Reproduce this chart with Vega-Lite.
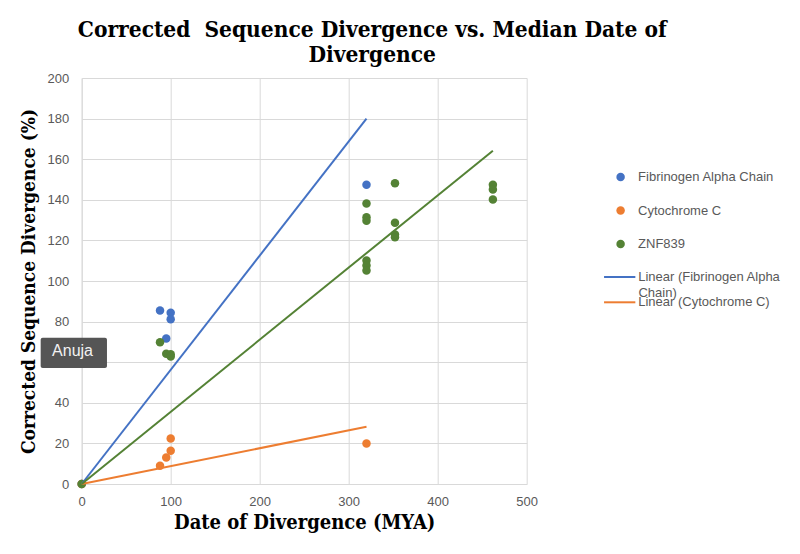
{
  "$schema": "https://vega.github.io/schema/vega-lite/v6.json",
  "autosize": "none",
  "width": 445,
  "height": 406,
  "padding": {"left": 81.7, "top": 78, "right": 273.3, "bottom": 70},
  "background": "white",
  "title": {
    "text": ["Corrected\u00a0 Sequence Divergence vs. Median Date of", "Divergence"],
    "font": "DejaVu Serif Condensed",
    "fontWeight": "bold",
    "fontSize": 22.5,
    "lineHeight": 25,
    "color": "#000000",
    "anchor": "middle",
    "frame": "group",
    "dx": 68,
    "offset": 6
  },
  "config": {
    "view": {"stroke": null},
    "axis": {
      "gridColor": "#d9d9d9",
      "gridWidth": 1,
      "domainColor": "#d9d9d9",
      "ticks": false,
      "labelFlush": false,
      "labelFont": "Liberation Sans",
      "labelFontSize": 13,
      "labelColor": "#595959",
      "titleFont": "DejaVu Serif Condensed",
      "titleFontWeight": "bold",
      "titleColor": "#000000"
    },
    "legend": {
      "labelFont": "Liberation Sans",
      "labelFontSize": 13,
      "labelColor": "#595959"
    }
  },
  "datasets": {
    "points": [
      {"series": "Fibrinogen Alpha Chain", "date": 0, "div": 0},
      {"series": "Fibrinogen Alpha Chain", "date": 88, "div": 85.5},
      {"series": "Fibrinogen Alpha Chain", "date": 100, "div": 84.4},
      {"series": "Fibrinogen Alpha Chain", "date": 100, "div": 81.2},
      {"series": "Fibrinogen Alpha Chain", "date": 95, "div": 71.7},
      {"series": "Fibrinogen Alpha Chain", "date": 320, "div": 147.4},
      {"series": "Cytochrome C", "date": 0, "div": 0},
      {"series": "Cytochrome C", "date": 88, "div": 9.0},
      {"series": "Cytochrome C", "date": 95, "div": 13.1},
      {"series": "Cytochrome C", "date": 100, "div": 16.4},
      {"series": "Cytochrome C", "date": 100, "div": 22.4},
      {"series": "Cytochrome C", "date": 320, "div": 20.0},
      {"series": "ZNF839", "date": 0, "div": 0},
      {"series": "ZNF839", "date": 88, "div": 69.8},
      {"series": "ZNF839", "date": 95, "div": 64.2},
      {"series": "ZNF839", "date": 100, "div": 63.9},
      {"series": "ZNF839", "date": 100, "div": 62.8},
      {"series": "ZNF839", "date": 320, "div": 138.2},
      {"series": "ZNF839", "date": 320, "div": 131.4},
      {"series": "ZNF839", "date": 320, "div": 129.7},
      {"series": "ZNF839", "date": 320, "div": 110.1},
      {"series": "ZNF839", "date": 320, "div": 107.6},
      {"series": "ZNF839", "date": 320, "div": 105.2},
      {"series": "ZNF839", "date": 352, "div": 148.1},
      {"series": "ZNF839", "date": 352, "div": 128.7},
      {"series": "ZNF839", "date": 352, "div": 122.9},
      {"series": "ZNF839", "date": 352, "div": 121.5},
      {"series": "ZNF839", "date": 462, "div": 147.4},
      {"series": "ZNF839", "date": 462, "div": 145.1},
      {"series": "ZNF839", "date": 462, "div": 140.2}
    ],
    "trends": [
      {"trend": "Linear (Fibrinogen Alpha Chain)", "date": 0, "div": 0},
      {"trend": "Linear (Fibrinogen Alpha Chain)", "date": 320, "div": 180},
      {"trend": "Linear (Cytochrome C)", "date": 0, "div": 0},
      {"trend": "Linear (Cytochrome C)", "date": 320, "div": 28.2},
      {"trend": "Linear (ZNF839)", "date": 0, "div": 0},
      {"trend": "Linear (ZNF839)", "date": 462, "div": 164.2}
    ],
    "note": [
      {"label": "Anuja", "x1": -46.1, "x2": 28.4, "y1": 57.1, "y2": 72.1, "tx": -10.3, "ty": 65.3}
    ],
    "wrap": [
      {"label": "Chain)", "x": 625.6, "y": 93.9}
    ]
  },
  "layer": [
    {
      "data": {"name": "points"},
      "mark": {"type": "point", "filled": true, "opacity": 1, "size": 72},
      "encoding": {
        "x": {
          "field": "date", "type": "quantitative",
          "scale": {"domain": [0, 500], "nice": false, "zero": false},
          "axis": {"values": [0, 100, 200, 300, 400, 500], "title": "Date of Divergence (MYA)", "titleFontSize": 20, "labelPadding": 11, "titleY": 38, "titleBaseline": "middle"}
        },
        "y": {
          "field": "div", "type": "quantitative",
          "scale": {"domain": [0, 200], "nice": false, "zero": false},
          "axis": {"values": [0, 20, 40, 60, 80, 100, 120, 140, 160, 180, 200], "title": "Corrected Sequence Divergence (%)", "titleFontSize": 19, "labelPadding": 13, "titleX": -53, "titleY": 203, "titleBaseline": "middle", "titleAngle": -90}
        },
        "color": {
          "field": "series", "type": "nominal",
          "scale": {"domain": ["Fibrinogen Alpha Chain", "Cytochrome C", "ZNF839"], "range": ["#4472C4", "#ED7D31", "#548235"]},
          "legend": {"title": null, "orient": "none", "legendX": 532.4, "legendY": 92.5, "symbolType": "circle", "symbolSize": 72, "labelOffset": 11, "rowPadding": 19.5, "padding": 0}
        }
      }
    },
    {
      "data": {"name": "trends"},
      "mark": {"type": "line", "strokeWidth": 2},
      "encoding": {
        "x": {"field": "date", "type": "quantitative"},
        "y": {"field": "div", "type": "quantitative"},
        "stroke": {
          "field": "trend", "type": "nominal",
          "scale": {"domain": ["Linear (Fibrinogen Alpha Chain)", "Linear (Cytochrome C)", "Linear (ZNF839)"], "range": ["#4472C4", "#ED7D31", "#548235"]},
          "legend": {"title": null, "orient": "none", "legendX": 521, "legendY": 182, "values": ["Linear (Fibrinogen Alpha Chain)", "Linear (Cytochrome C)"], "symbolType": "stroke", "symbolSize": 980, "symbolStrokeWidth": 2, "labelOffset": 1.5, "rowPadding": 1.3, "padding": 0, "labelExpr": "datum.label == 'Linear (Fibrinogen Alpha Chain)' ? 'Linear (Fibrinogen Alpha' : datum.label"}
        }
      }
    },
    {
      "data": {"name": "wrap"},
      "mark": {"type": "text", "color": "#595959", "font": "Liberation Sans", "fontSize": 13, "align": "left", "baseline": "middle"},
      "encoding": {
        "x": {"field": "x", "type": "quantitative"},
        "y": {"field": "y", "type": "quantitative"},
        "text": {"field": "label"}
      }
    },
    {
      "data": {"name": "note"},
      "mark": {"type": "rect", "color": "#555555", "cornerRadius": 2},
      "encoding": {
        "x": {"field": "x1", "type": "quantitative"},
        "x2": {"field": "x2"},
        "y": {"field": "y1", "type": "quantitative"},
        "y2": {"field": "y2"}
      }
    },
    {
      "data": {"name": "note"},
      "mark": {"type": "text", "color": "#f2f2f2", "font": "Liberation Sans", "fontSize": 16, "align": "center", "baseline": "middle"},
      "encoding": {
        "x": {"field": "tx", "type": "quantitative"},
        "y": {"field": "ty", "type": "quantitative"},
        "text": {"field": "label"}
      }
    }
  ]
}
